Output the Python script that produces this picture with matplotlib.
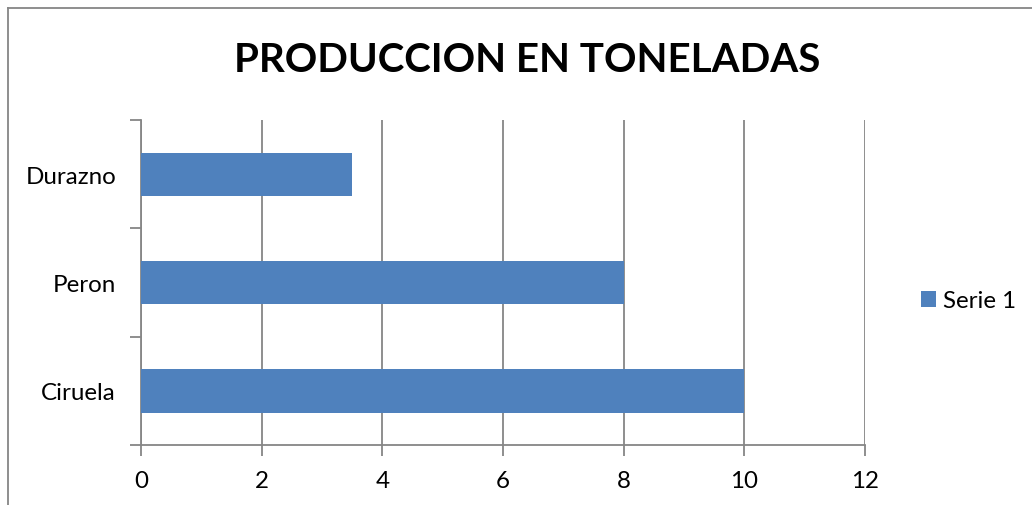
import matplotlib.pyplot as plt
from matplotlib.lines import Line2D

categories = ["Ciruela", "Peron", "Durazno"]
values = [10, 8, 3.5]
series_name = "Serie 1"
x_ticks = [0, 2, 4, 6, 8, 10, 12]

bar_color = "#4F81BD"
axis_gray = "#868686"

plt.rcParams['font.family'] = ['Lato', 'DejaVu Sans']

fig = plt.figure(figsize=(10.32, 5.06), dpi=100)
ax = fig.add_axes([141 / 1032, 1 - 446 / 506, (865 - 141) / 1032, (446 - 121) / 506])

ypos = list(range(len(categories)))
ax.barh(ypos, values, height=0.4, color=bar_color, label=series_name, zorder=3)

ax.set_xlim(0, 12)
ax.set_ylim(-0.5, len(categories) - 0.5)
ax.set_xticks(x_ticks)
ax.set_xticklabels([str(t) for t in x_ticks])
ax.set_yticks(ypos)
ax.set_yticklabels(categories)

# category boundary ticks on the y axis
ax.set_yticks([i - 0.5 for i in range(len(categories) + 1)], minor=True)
ax.tick_params(axis='y', which='major', length=0, pad=18, labelsize=17.4)
ax.tick_params(axis='y', which='minor', length=8, width=1.3, color=axis_gray, direction='out')
ax.tick_params(axis='x', which='major', length=8, width=1.3, color=axis_gray,
               direction='out', pad=10, labelsize=17.4)

ax.grid(axis='x', color=axis_gray, linewidth=1.3, zorder=0)
for side in ['top', 'right']:
    ax.spines[side].set_visible(False)
for side in ['left', 'bottom']:
    ax.spines[side].set_color(axis_gray)
    ax.spines[side].set_linewidth(1.3)

fig.text(527 / 1032, 1 - 60 / 506, "PRODUCCION EN TONELADAS", ha='center', va='center',
         fontsize=29, fontweight='bold')

ax.legend(loc='center left', bbox_to_anchor=(909 / 1032, 1 - 302 / 506),
          bbox_transform=fig.transFigure, frameon=False, fontsize=17.4, borderpad=0,
          handlelength=0.62, handleheight=0.62, handletextpad=0.3)

# chart border
fig.add_artist(Line2D([8 / 1032, 8 / 1032], [0, 1 - 9 / 506], transform=fig.transFigure,
                      color=axis_gray, linewidth=1.3))
fig.add_artist(Line2D([8 / 1032, 1], [1 - 9 / 506, 1 - 9 / 506], transform=fig.transFigure,
                      color=axis_gray, linewidth=1.3))

fig.savefig('out.png', dpi=100)
